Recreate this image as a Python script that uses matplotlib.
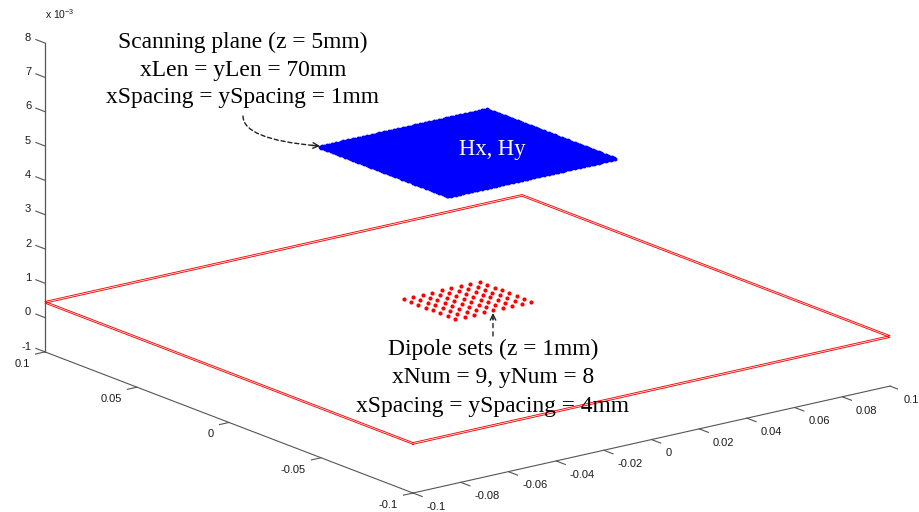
import numpy as np
import matplotlib
matplotlib.use('Agg')
import matplotlib.pyplot as plt
from matplotlib.patches import FancyArrowPatch

W, H = 920, 512

# axis ranges and ticks (metres)
x_lim = (-0.1, 0.1)
y_lim = (-0.1, 0.1)
z_lim = (-1e-3, 8e-3)
x_ticks = [-0.1, -0.08, -0.06, -0.04, -0.02, 0, 0.02, 0.04, 0.06, 0.08, 0.1]
x_labels = ['-0.1', '-0.08', '-0.06', '-0.04', '-0.02', '0',
            '0.02', '0.04', '0.06', '0.08', '0.1']
y_ticks = [-0.1, -0.05, 0, 0.05, 0.1]
y_labels = ['-0.1', '-0.05', '0', '0.05', '0.1']
z_ticks = [-1, 0, 1, 2, 3, 4, 5, 6, 7, 8]   # x 1e-3

# board outline (two edges, top and bottom of the plane)
board_x = [-0.1, 0.1, 0.1, -0.1, -0.1]
board_y = [-0.1, -0.1, 0.1, 0.1, -0.1]
board_z = [0.42e-3, 0.47e-3]

# dipole grid (mm)
dipole_x_mm = [-16, -12, -8, -4, 0, 4, 8, 12, 16]
dipole_y_mm = [-14, -10, -6, -2, 2, 6, 10, 14]
dipole_z_mm = 1.0

# scanning plane grid (mm), 70mm wide, 1mm step
scan_x_mm = np.arange(-35, 36, 1)
scan_y_mm = np.arange(-35, 36, 1)
scan_z_mm = 5.3

# annotation text
scan_lines = ['Scanning plane (z = 5mm)', 'xLen = yLen = 70mm',
              'xSpacing = ySpacing = 1mm']
dip_lines = ['Dipole sets (z = 1mm)', 'xNum = 9, yNum = 8',
             'xSpacing = ySpacing = 4mm']

plt.rcParams['mathtext.default'] = 'regular'
TICK_FONT = dict(family='Liberation Sans', size=8, color='#1a1a1a')
NOTE_FONT = dict(family='Liberation Serif', size=16.9, color='black')
AX_COLOR = '#555555'


def fpx(x, y):
    # pixel (from top-left) -> figure fraction
    return (x / W, 1 - y / H)


fig = plt.figure(figsize=(W / 100, H / 100), dpi=100)
ax = fig.add_axes([0, 0, 1, 1], projection='3d', proj_type='ortho')
ax.set_xlim(*x_lim)
ax.set_ylim(*y_lim)
ax.set_zlim(*z_lim)
ax.set_box_aspect((1, 1.009, 0.538))
ax.view_init(elev=17.05, azim=-127.4)
ax.set_axis_off()
ax.computed_zorder = False

x0, x1 = x_lim
y0, y1 = y_lim
zb, zt = z_lim

#--------------------------------------------------------------------------
# axis lines and ticks (MATLAB style: only three edges)
#
ax.plot([x0, x0], [y1, y1], [zb, zt], color=AX_COLOR, lw=0.9)
ax.plot([x0, x0], [y0, y1], [zb, zb], color=AX_COLOR, lw=0.8)
ax.plot([x0, x1], [y0, y0], [zb, zb], color=AX_COLOR, lw=0.8)

for v in x_ticks:
    ax.plot([v, v], [y0, y0 - 0.005], [zb, zb], color=AX_COLOR, lw=0.8)
for v in y_ticks:
    ax.plot([x0, x0 - 0.004], [v, v], [zb, zb], color=AX_COLOR, lw=0.8)
for v in z_ticks:
    ax.plot([x0, x0], [y1, y1 + 0.005], [v * 1e-3, v * 1e-3],
            color=AX_COLOR, lw=0.8)

#--------------------------------------------------------------------------
# the data
#
for bz in board_z:
    ax.plot(board_x, board_y, [bz] * len(board_x), color='red', lw=0.65)

dx, dy = np.meshgrid(np.array(dipole_x_mm) * 1e-3, np.array(dipole_y_mm) * 1e-3)
ax.plot(dx.ravel(), dy.ravel(), np.full(dx.size, dipole_z_mm * 1e-3), 'o',
        color='red', ms=3.0, mec='none')

sx, sy = np.meshgrid(scan_x_mm * 1e-3, scan_y_mm * 1e-3)
ax.plot(sx.ravel(), sy.ravel(), np.full(sx.size, scan_z_mm * 1e-3), 'o',
        color='blue', ms=2.8, mec='none')

#--------------------------------------------------------------------------
# fit the axes so the box corners land where the reference has them
#
corners = [(x0, y1, zb), (x1, y0, zb), (x0, y0, zb)]
corner_px = [(45, 352), (890, 386), (413, 493)]


def proj2d(x, y, z):
    v = ax.M @ np.array([x, y, z, 1.0])
    return v[0] / v[3], v[1] / v[3]


for _ in range(3):
    fig.canvas.draw()
    p = np.array([ax.transData.transform(proj2d(*c)) for c in corners])
    q = np.array([(cx, H - cy) for cx, cy in corner_px], dtype=float)
    pm, qm = p.mean(0), q.mean(0)
    s = ((p - pm) * (q - qm)).sum() / ((p - pm) ** 2).sum()
    t = qm - s * pm
    bb = ax.get_position().transformed(fig.transFigure)
    nx, ny = s * bb.x0 + t[0], s * bb.y0 + t[1]
    ax.set_position([nx / W, ny / H, s * bb.width / W, s * bb.height / H])

#--------------------------------------------------------------------------
# tick labels, placed at the projected tick ends
#
for v, lab in zip(x_ticks, x_labels):
    ax.text2D(*proj2d(v, y0 - 0.0075, zb - 0.1e-3), lab, ha='left', va='top',
              transform=ax.transData, **TICK_FONT)
for v, lab in zip(y_ticks, y_labels):
    ax.text2D(*proj2d(x0 - 0.0065, v, zb - 0.1e-3), lab, ha='right', va='top',
              transform=ax.transData, **TICK_FONT)
for v in z_ticks:
    ax.text2D(*proj2d(x0, y1 + 0.0075, v * 1e-3), str(v), ha='right',
              va='center', transform=ax.transData, **TICK_FONT)

#--------------------------------------------------------------------------
# labels and arrows
#
fig.text(*fpx(45, 14), 'x 10$^{-3}$', family='Liberation Sans', size=7.5,
         color='#1a1a1a', va='center')

for line, yb in zip(scan_lines, [48, 76, 103]):
    fig.text(*fpx(243, yb), line, ha='center', va='baseline', **NOTE_FONT)
for line, yb in zip(dip_lines, [355, 383, 412]):
    fig.text(*fpx(493, yb), line, ha='center', va='baseline', **NOTE_FONT)
fig.text(*fpx(492, 155), 'Hx, Hy', ha='center', va='baseline',
         family='Liberation Serif', size=16.3, color='white')

arrow_col = '#222222'
fig.add_artist(FancyArrowPatch(fpx(243, 116), fpx(316, 145.7),
                               transform=fig.transFigure,
                               connectionstyle='angle3,angleA=90,angleB=-5',
                               arrowstyle='-', color=arrow_col, lw=1.0,
                               linestyle=(0, (3, 2)), shrinkA=0, shrinkB=0))
fig.add_artist(FancyArrowPatch(fpx(312, 145.4), fpx(320, 146),
                               transform=fig.transFigure, arrowstyle='->',
                               mutation_scale=10, color=arrow_col, lw=1.0,
                               shrinkA=0, shrinkB=0))
fig.add_artist(FancyArrowPatch(fpx(493, 336), fpx(493, 318),
                               transform=fig.transFigure, arrowstyle='-',
                               color=arrow_col, lw=1.0, linestyle=(0, (3, 3)),
                               shrinkA=0, shrinkB=0))
fig.add_artist(FancyArrowPatch(fpx(493, 320), fpx(493, 313),
                               transform=fig.transFigure, arrowstyle='->',
                               mutation_scale=10, color=arrow_col, lw=1.0,
                               shrinkA=0, shrinkB=0))

fig.savefig('out.png', dpi=100)
